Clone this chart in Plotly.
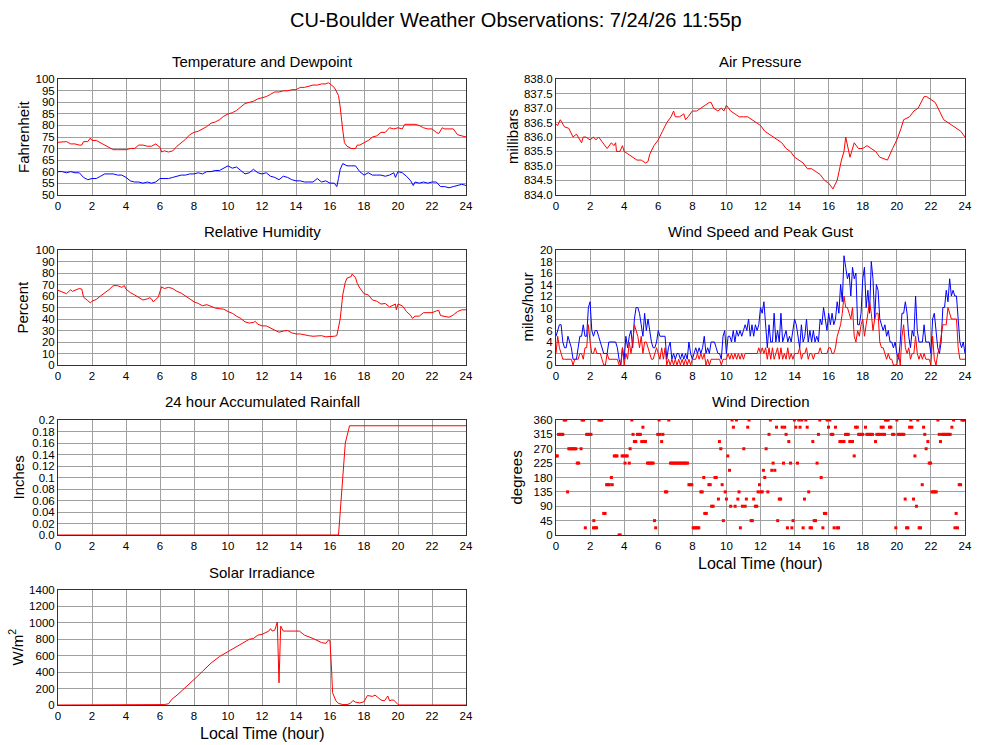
import plotly.graph_objects as go

# ---------------- data ----------------
temp_t = [0, 0.25, 0.5, 0.75, 1.0, 1.25, 1.4, 1.5, 1.75, 1.9, 2.0, 2.25, 2.5, 2.75, 3.0, 3.25, 3.5, 3.75,
          4.0, 4.25, 4.5, 4.75, 5.0, 5.25, 5.5, 5.75, 6.0, 6.1, 6.25, 6.5, 6.75, 7.0, 7.25, 7.5, 7.75,
          8.0, 8.25, 8.5, 8.75, 9.0, 9.25, 9.5, 9.75, 10.0, 10.25, 10.5, 10.75, 11.0, 11.25, 11.5, 11.75,
          12.0, 12.25, 12.5, 12.75, 13.0, 13.25, 13.5, 13.75, 14.0, 14.25, 14.5, 14.75, 15.0, 15.25, 15.5,
          15.75, 15.9, 16.0, 16.25, 16.5, 16.6, 16.75, 16.85, 17.0, 17.25, 17.5, 17.6, 17.75, 18.0, 18.25,
          18.5, 18.75, 19.0, 19.25, 19.5, 19.75, 20.0, 20.25, 20.4, 20.75, 21.0, 21.25, 21.5, 21.75, 22.0,
          22.25, 22.4, 22.6, 22.75, 23.0, 23.25, 23.5, 23.75, 24.0]
temp_f = [72.7, 73, 73, 72, 72, 71.5, 71.5, 73, 73, 74.5, 73.5, 73.5, 72.5, 71.5, 70.5, 69.5, 69.5, 69.5,
          69.5, 70, 70, 71.5, 71.5, 71, 71, 72, 70.5, 68.5, 69, 68.5, 69, 71, 72.5, 74, 76,
          77, 77.5, 78.5, 79.5, 81, 81.5, 82.5, 84, 85, 85.5, 86.5, 88, 89.5, 90, 90.5, 91.5,
          92, 92.5, 93.5, 94.5, 94.5, 95, 95, 95.5, 95.5, 96.5, 96.5, 97, 97.5, 97.5, 98,
          98, 98.5, 98, 96.5, 93, 88, 78, 72.5, 71, 70, 70, 71.5, 71.5, 72.5, 73.5,
          75, 75.5, 77, 77, 79, 78.5, 79, 78.5, 80.5, 80.5, 80.5, 80, 79, 78.5, 78.5,
          77, 76.5, 79, 78.5, 78.5, 78.5, 76, 75.5, 75]

dew_t = [0, 0.25, 0.5, 0.75, 1.0, 1.25, 1.5, 1.75, 2.0, 2.25, 2.5, 2.75, 3.0, 3.25, 3.5, 3.75, 4.0, 4.25,
         4.5, 4.75, 5.0, 5.25, 5.5, 5.75, 6.0, 6.25, 6.5, 6.75, 7.0, 7.25, 7.5, 7.75, 8.0, 8.25, 8.5, 8.75,
         9.0, 9.25, 9.5, 9.75, 10.0, 10.25, 10.5, 10.75, 11.0, 11.25, 11.5, 11.75, 12.0, 12.25, 12.5, 12.75,
         13.0, 13.25, 13.5, 13.75, 14.0, 14.25, 14.5, 14.75, 15.0, 15.25, 15.5, 15.75, 16.0, 16.25, 16.4,
         16.5, 16.6, 16.75, 17.0, 17.25, 17.5, 17.75, 18.0, 18.25, 18.5, 18.75, 19.0, 19.25, 19.5, 19.75,
         19.85, 20.0, 20.25, 20.5, 20.75, 20.9, 21.0, 21.25, 21.5, 21.75, 22.0, 22.25, 22.5, 22.75, 23.0,
         23.25, 23.5, 23.75, 24.0]
dew_f = [60, 60, 59.5, 60, 59.5, 59.5, 57.5, 56.5, 57, 57, 58, 59, 59, 59, 58.5, 58.5, 57.5, 56,
         55.5, 55.5, 55, 55.5, 55, 55.5, 57, 57, 57, 57.5, 58, 58.5, 58.5, 59, 59, 59.5, 59, 60,
         60, 60.5, 60.5, 61.5, 62.5, 61.5, 62, 60.5, 59, 59.5, 61, 59.5, 59, 59.5, 58, 57.5,
         56.5, 58, 57.5, 56.5, 56, 56, 55.5, 55.5, 55.5, 57, 55.5, 56, 55, 55, 53.5,
         57, 61, 63.5, 62.5, 62.5, 62.5, 60, 58.5, 59.5, 58.5, 58.5, 58.5, 58, 58.5, 59.5,
         57.5, 60, 59.5, 58, 56, 54, 55.5, 55, 55.5, 55, 55.5, 55.5, 53.5, 53.5, 53,
         53.5, 54, 54.5, 54]

pres_t = [0, 0.1, 0.25, 0.5, 0.75, 1.0, 1.2, 1.4, 1.5, 1.6, 1.75, 2.0, 2.2, 2.35, 2.5, 2.75, 3.0, 3.25,
          3.4, 3.5, 3.55, 3.75, 3.9, 4.0, 4.25, 4.5, 4.75, 5.0, 5.25, 5.4, 5.5, 5.75, 6.0, 6.25, 6.5,
          6.75, 6.9, 7.0, 7.25, 7.5, 7.6, 7.75, 8.0, 8.25, 8.5, 8.75, 9.0, 9.1, 9.25, 9.5, 9.7, 9.85,
          10.0, 10.25, 10.5, 10.75, 11.0, 11.25, 11.5, 11.75, 12.0, 12.25, 12.5, 12.75, 13.0, 13.25,
          13.5, 13.75, 14.0, 14.25, 14.5, 14.75, 15.0, 15.25, 15.5, 15.75, 16.0, 16.25, 16.5, 16.75,
          16.9, 17.0, 17.15, 17.25, 17.5, 17.75, 18.0, 18.25, 18.5, 18.75, 19.0, 19.25, 19.45, 19.75,
          20.0, 20.25, 20.4, 20.75, 21.0, 21.25, 21.5, 21.6, 21.75, 22.0, 22.25, 22.5, 22.75, 23.0,
          23.25, 23.5, 23.75, 24.0]
pres_mb = [836.45, 836.4, 836.6, 836.35, 836.3, 836.0, 836.1, 835.9, 835.8, 836.0, 836.0, 835.9, 836.0,
           835.9, 836.0, 835.8, 835.6, 835.8, 835.7, 835.8, 835.5, 835.5, 835.7, 835.5, 835.4, 835.3,
           835.2, 835.2, 835.1, 835.15, 835.4, 835.7, 835.9, 836.2, 836.5, 836.7, 836.9, 836.7, 836.7,
           836.8, 836.6, 836.7, 836.9, 836.9, 837.0, 837.1, 837.2, 837.2, 837.0, 836.9, 837.0, 836.9,
           837.1, 836.9, 836.8, 836.7, 836.7, 836.7, 836.6, 836.5, 836.4, 836.2, 836.1, 836.0, 835.9,
           835.8, 835.6, 835.5, 835.3, 835.2, 835.1, 834.9, 834.9, 834.8, 834.7, 834.5, 834.4, 834.2,
           834.5, 835.2, 835.5, 836.0, 835.6, 835.3, 835.8, 835.6, 835.6, 835.7, 835.6, 835.5, 835.3,
           835.25, 835.2, 835.6, 835.9, 836.3, 836.6, 836.7, 836.9, 837.0, 837.3, 837.4, 837.4, 837.3,
           837.2, 836.9, 836.6, 836.5, 836.4, 836.3, 836.2, 836.0]

rh_t = [0, 0.25, 0.5, 0.75, 0.85, 1.0, 1.25, 1.4, 1.5, 1.75, 1.9, 2.0, 2.25, 2.5, 2.75, 3.0, 3.25, 3.5,
        3.75, 3.9, 4.0, 4.25, 4.5, 4.75, 5.0, 5.25, 5.4, 5.5, 5.6, 5.75, 5.9, 6.0, 6.1, 6.25, 6.5, 6.75,
        7.0, 7.25, 7.5, 7.75, 8.0, 8.25, 8.5, 8.75, 9.0, 9.25, 9.5, 9.75, 10.0, 10.25, 10.5, 10.75, 11.0,
        11.25, 11.5, 11.6, 11.75, 12.0, 12.25, 12.5, 12.75, 13.0, 13.25, 13.5, 13.75, 14.0, 14.25, 14.5,
        14.75, 15.0, 15.25, 15.5, 15.75, 16.0, 16.25, 16.4, 16.5, 16.6, 16.75, 16.9, 17.0, 17.25, 17.3,
        17.5, 17.6, 17.75, 18.0, 18.25, 18.5, 18.75, 19.0, 19.25, 19.5, 19.75, 19.85, 19.9, 20.0, 20.25,
        20.5, 20.75, 20.85, 21.0, 21.25, 21.5, 21.75, 22.0, 22.25, 22.4, 22.5, 22.75, 23.0, 23.25, 23.5,
        23.75, 24.0]
rh_pct = [65, 63.5, 62, 65.5, 64, 65, 66.5, 66, 59, 56, 54, 55.5, 57, 60, 62.5, 65.5, 69, 69,
          67.5, 69, 66, 63, 61, 58.5, 56.5, 57.5, 58.5, 57.5, 55, 57, 59, 64, 68, 66.5, 67.5, 66.5,
          64, 62.5, 60, 57.5, 55, 53.5, 51.5, 52.5, 51, 49.5, 49, 48.5, 46.5, 45, 42.5, 40.5, 37.5,
          36.5, 37, 38, 35.5, 34, 34, 32, 30, 28.5, 29.5, 30, 28, 27, 27, 26,
          25.5, 25, 25.5, 25.5, 24.5, 24.5, 25, 25.5, 32, 40, 61, 72, 75.5, 77, 79,
          76, 71, 67, 62, 61, 56.5, 55.5, 53, 53.5, 50.5, 52, 53, 48, 53, 51.5,
          46.5, 43, 40.5, 42.5, 42.5, 45.5, 45.5, 45.5, 47, 47.5, 43, 42, 41.5, 43.5, 46.5,
          48, 48]

wind_t = [i / 10 for i in range(241)]
gust_mph = [5, 6, 7, 7, 4, 3, 3, 5, 4, 3, 1,
            1, 1, 3, 5, 5, 7, 5, 5, 10, 11,
            6, 5, 6, 6, 5, 4, 3, 2, 2, 2,
            4, 4, 4, 4, 4, 3, 1, 0, 3, 1,
            5, 3, 5, 6, 3, 8, 10, 10, 9, 7,
            5, 9, 6, 8, 6, 4, 3, 3, 4, 6,
            5, 5, 5, 5, 1, 3, 4, 1, 2, 1,
            2, 2, 1, 2, 1, 2, 1, 4, 2, 1,
            2, 3, 2, 3, 2, 3, 5, 2, 3, 2,
            4, 4, 4, 3, 2, 2, 1, 5, 6, 2,
            5, 5, 4, 6, 4, 6, 5, 6, 5, 6,
            7, 6, 8, 5, 7, 5, 7, 6, 7, 10,
            9, 11, 6, 3, 7, 4, 4, 9, 4, 6,
            4, 9, 4, 5, 6, 4, 5, 4, 6, 8,
            7, 5, 3, 7, 4, 5, 8, 4, 6, 4,
            6, 4, 5, 4, 8, 7, 10, 8, 6, 9,
            7, 9, 7, 8, 11, 9, 14, 11, 19, 17,
            15, 16, 12, 17, 15, 16, 7, 7, 9, 15,
            17, 10, 13, 9, 18, 15, 8, 14, 13, 8,
            7, 6, 7, 5, 6, 4, 4, 3, 4, 2,
            1, 4, 9, 9, 11, 9, 5, 3, 6, 5,
            12, 6, 4, 4, 4, 7, 4, 4, 4, 2,
            8, 9, 6, 3, 2, 4, 10, 10, 13, 11,
            15, 12, 13, 12, 12, 8, 4, 3, 4, 2,
            5, 6]
speed_mph = [2, 5, 3, 2, 1, 1, 1, 1, 1, 1, 0,
             1, 1, 1, 2, 2, 1, 3, 3, 7, 4,
             2, 2, 3, 2, 2, 2, 1, 0, 0, 2,
             1, 1, 1, 1, 1, 1, 0, 0, 3, 0,
             2, 1, 4, 2, 4, 7, 6, 5, 3, 5,
             2, 4, 4, 3, 2, 1, 1, 2, 3, 2,
             1, 3, 1, 3, 0, 1, 0, 1, 0, 1,
             0, 1, 0, 1, 0, 1, 0, 1, 0, 1,
             1, 1, 2, 1, 2, 1, 2, 0, 1, 0,
             1, 1, 1, 1, 1, 1, 0, 1, 1, 1,
             2, 1, 2, 1, 2, 1, 2, 1, 2, 1,
             2, 2, 2, 2, 2, 2, 2, 2, 3, 2,
             3, 2, 3, 1, 3, 1, 3, 1, 2, 3,
             1, 3, 1, 2, 1, 3, 1, 2, 1, 2,
             2, 2, 3, 1, 2, 2, 3, 1, 2, 2,
             1, 2, 2, 2, 3, 2, 2, 2, 2, 3,
             3, 2, 2, 3, 5, 6, 7, 9, 12, 10,
             10, 9, 8, 10, 5, 4, 6, 5, 7, 8,
             5, 7, 9, 11, 9, 6, 8, 9, 9, 4,
             3, 3, 2, 1, 2, 1, 1, 0, 0, 0,
             2, 0, 5, 7, 3, 2, 3, 1, 2, 2,
             5, 2, 1, 2, 1, 2, 1, 1, 1, 0,
             5, 1, 0, 2, 3, 5, 7, 7, 7, 10,
             9, 8, 8, 8, 8, 3, 1, 1, 1, 1,
             2, 3]

dir_t = [0.00, 0.08, 0.15, 0.23, 0.32, 0.40, 0.48, 0.57, 0.68, 0.75, 0.83, 0.92, 1.00, 1.08, 1.17,
         1.25, 1.33, 1.47, 1.53, 1.62, 1.72, 1.80, 1.88, 1.97, 2.05, 2.22, 2.20, 2.30, 2.38, 2.52,
         2.60, 2.68, 2.80, 2.88, 2.97, 3.05, 3.13, 3.25, 3.30, 3.42, 3.50, 3.58, 3.70, 3.77, 3.88,
         3.97, 4.05, 4.10, 4.18, 4.30, 4.35, 4.45, 4.52, 4.60, 4.68, 4.78, 4.87, 4.95, 5.03, 5.10,
         5.17, 5.25, 5.37, 5.45, 5.53, 5.62, 5.70, 5.78, 5.85, 5.97, 6.05, 6.10, 6.20, 6.27, 6.42,
         6.50, 6.62, 6.72, 6.80, 6.88, 6.97, 7.05, 7.13, 7.22, 7.30, 7.38, 7.47, 7.55, 7.63, 7.72,
         7.80, 7.88, 7.97, 8.05, 8.13, 8.22, 8.30, 8.38, 8.50, 8.58, 8.67, 8.73, 8.82, 8.97, 9.05,
         9.13, 9.22, 9.33, 9.40, 9.53, 9.59, 9.67, 9.75, 9.82, 9.93, 10.00, 10.08, 10.18, 10.25,
         10.33, 10.41, 10.51, 10.59, 10.67, 10.74, 10.82, 10.94, 11.02, 11.10, 11.17, 11.25, 11.33,
         11.45, 11.52, 11.60, 11.70, 11.78, 11.86, 11.94, 12.02, 12.10, 12.17, 12.25, 12.33, 12.43,
         12.50, 12.58, 12.66, 12.74, 12.84, 12.94, 13.01, 13.10, 13.18, 13.27, 13.35, 13.42, 13.50,
         13.58, 13.66, 13.76, 13.84, 13.91, 13.99, 14.07, 14.17, 14.25, 14.32, 14.42, 14.50, 14.58,
         14.66, 14.74, 14.83, 14.91, 14.99, 15.07, 15.15, 15.23, 15.32, 15.40, 15.48, 15.56, 15.66,
         15.75, 15.83, 15.91, 15.99, 16.07, 16.15, 16.24, 16.32, 16.40, 16.50, 16.58, 16.66, 16.74,
         16.82, 16.90, 16.99, 17.07, 17.15, 17.24, 17.32, 17.40, 17.50, 17.58, 17.68, 17.76, 17.84,
         17.92, 18.00, 18.16, 18.24, 18.32, 18.41, 18.49, 18.57, 18.75, 18.83, 18.93, 19.02, 19.08,
         19.16, 19.20, 19.28, 19.33, 19.41, 19.49, 19.57, 19.65, 19.75, 19.83, 19.94, 20.00, 20.08,
         20.16, 20.24, 20.33, 20.41, 20.49, 20.57, 20.65, 20.75, 20.82, 20.88, 20.98, 21.06, 21.15,
         21.23, 21.31, 21.39, 21.49, 21.57, 21.64, 21.72, 21.82, 21.90, 21.98, 22.06, 22.14, 22.23,
         22.31, 22.41, 22.49, 22.56, 22.64, 22.72, 22.80, 22.88, 22.97, 23.05, 23.13, 23.23, 23.33,
         23.41, 23.48, 23.56, 23.66, 23.74, 23.82, 23.90, 23.97]
dir_deg = [247.5, 247.5, 315, 315, 315, 315, 360, 360, 135, 270, 270, 270, 270, 270, 270,
           225, 225, 270, 360, 360, 22.5, 315, 315, 315, 315, 45, 22.5, 22.5, 22.5, 360,
           360, 360, 67.5, 67.5, 157.5, 157.5, 157.5, 180, 157.5, 247.5, 247.5, 247.5, 0, 0, 247.5,
           247.5, 225, 247.5, 247.5, 225, 270, 360, 315, 292.5, 292.5, 315, 315, 315, 292.5, 337.5,
           292.5, 292.5, 225, 225, 225, 225, 225, 45, 22.5, 315, 360, 315, 292.5, 315, 135,
           135, 360, 225, 225, 225, 225, 225, 225, 225, 225, 225, 225, 225, 225, 225,
           157.5, 157.5, 157.5, 22.5, 22.5, 22.5, 22.5, 22.5, 135, 135, 180, 67.5, 67.5, 157.5, 157.5,
           90, 90, 180, 180, 112.5, 292.5, 270, 157.5, 45, 135, 112.5, 247.5, 202.5, 90,
           360, 337.5, 90, 360, 112.5, 135, 22.5, 90, 270, 90, 112.5, 337.5, 360,
           45, 45, 112.5, 90, 90, 135, 157.5, 135, 135, 202.5, 180, 270, 135,
           315, 360, 202.5, 225, 202.5, 337.5, 45, 112.5, 112.5, 337.5, 225, 337.5, 315,
           22.5, 292.5, 225, 22.5, 45, 360, 337.5, 225, 360, 337.5, 360, 22.5, 112.5,
           360, 337.5, 135, 22.5, 22.5, 292.5, 45, 45, 225, 315, 360, 180, 22.5,
           67.5, 67.5, 360, 337.5, 360, 315, 315, 22.5, 337.5, 22.5, 22.5, 292.5, 292.5,
           292.5, 292.5, 315, 315, 315, 292.5, 292.5, 292.5, 247.5, 337.5, 337.5, 315, 315,
           315, 315, 337.5, 315, 315, 315, 315, 315, 292.5, 315, 315, 315, 337.5,
           315, 337.5, 315, 360, 360, 360, 337.5, 337.5, 315, 315, 22.5, 360, 315,
           315, 315, 315, 315, 112.5, 22.5, 22.5, 337.5, 360, 337.5, 112.5, 247.5, 90,
           360, 22.5, 22.5, 157.5, 337.5, 315, 270, 292.5, 225, 225, 135, 135, 135,
           135, 360, 315, 292.5, 315, 315, 315, 315, 315, 315, 315, 337.5, 360,
           22.5, 67.5, 22.5, 157.5, 157.5, 360, 360, 360]

rain_t = [0, 16.5, 16.75, 16.9, 17.15, 24]
rain_in = [0, 0, 0.1, 0.16, 0.19, 0.19]

solar_t = [0, 6.0, 6.25, 6.5, 6.7, 7.0, 7.5, 8.0, 8.5, 9.0, 9.5, 10.0, 10.5, 11.0, 11.25, 11.5, 11.75,
           12.0, 12.25, 12.4, 12.5, 12.6, 12.75, 12.9, 13.0, 13.1, 13.25, 13.5, 14.0, 14.2, 14.5, 15.0,
           15.5, 15.75, 15.9, 16.0, 16.1, 16.15, 16.35, 16.5, 16.75, 17.0, 17.2, 17.35, 17.5, 17.75,
           18.0, 18.2, 18.5, 18.65, 18.8, 19.0, 19.2, 19.4, 19.5, 19.6, 19.75, 20.0, 20.1, 24]
solar_w = [0, 0, 5, 15, 70, 120, 210, 310, 410, 510, 590, 650, 720, 780, 800, 810, 850,
           860, 880, 900, 930, 900, 910, 1010, 270, 960, 900, 900, 900, 900, 850, 810,
           760, 750, 790, 780, 400, 150, 50, 20, 5, 5, 20, 55, 35, 25,
           40, 115, 105, 120, 95, 60, 50, 110, 50, 60, 60, 5, 0, 0]

x_ticks = list(range(0, 25, 2))
rain_tickvals = [0, 0.02, 0.04, 0.06, 0.08, 0.1, 0.12, 0.14, 0.16, 0.18, 0.2]
rain_ticktext = ["0.0", "0.02", "0.04", "0.06", "0.08", "0.1", "0.12", "0.14", "0.16", "0.18", "0.2"]

# ---------------- layout helpers ----------------
W, H = 1000, 745
FONT = "Liberation Sans, Arial, Helvetica, sans-serif"
RED, BLUE = "#ff0000", "#0000ff"
GRID = "#a0a0a0"
TICK = 11.5

def py(p):
    return 1 - p / H

left_x = [0.058, 0.466]
right_x = [0.556, 0.965]
rows = [(79.3, 194.7), (250, 365), (420, 535), (590, 705)]
row_dom = [[py(b), py(t)] for t, b in rows]

panels = [
    # (n, xdom, row, title, ytitle, yrange, dtick, ytitle_x)
    (1, left_x, 0, "Temperature and Dewpoint", "Fahrenheit", [50, 100], 5, 23),
    (2, right_x, 0, "Air Pressure", "millibars", [834, 838], 0.5, 512),
    (3, left_x, 1, "Relative Humidity", "Percent", [0, 100], 10, 22),
    (4, right_x, 1, "Wind Speed and Peak Gust", "miles/hour", [0, 20], 2, 527),
    (5, left_x, 2, "24 hour Accumulated Rainfall", "Inches", [0, 0.2], 0.02, 18),
    (6, right_x, 2, "Wind Direction", "degrees", [0, 360], 45, 516),
    (7, left_x, 3, "Solar Irradiance", "W/m<sup>2</sup>", [0, 1400], 200, 16),
]

fig = go.Figure()

def line(x, y, n, color):
    fig.add_trace(go.Scatter(x=x, y=y, mode="lines", line=dict(color=color, width=1),
                             xaxis=f"x{n}", yaxis=f"y{n}", showlegend=False, hoverinfo="skip"))

line(temp_t, temp_f, 1, RED)
line(dew_t, dew_f, 1, BLUE)
line(pres_t, pres_mb, 2, RED)
line(rh_t, rh_pct, 3, RED)
line(wind_t, gust_mph, 4, BLUE)
line(wind_t, speed_mph, 4, RED)
line(rain_t, rain_in, 5, RED)
fig.add_trace(go.Scatter(x=dir_t, y=dir_deg, mode="markers",
                         marker=dict(symbol="square", size=3, color=RED, line=dict(width=0)),
                         xaxis="x6", yaxis="y6", showlegend=False, hoverinfo="skip"))
line(solar_t, solar_w, 7, RED)

layout = dict(
    width=W, height=H, autosize=False,
    margin=dict(l=0, r=0, t=0, b=0, pad=0, autoexpand=False),
    paper_bgcolor="white", plot_bgcolor="white",
    font=dict(family=FONT, color="black", size=12),
    showlegend=False,
)
annotations = [dict(text="CU-Boulder Weather Observations: 7/24/26 11:55p", x=0.516, y=py(20),
                    xref="paper", yref="paper", showarrow=False, font=dict(size=20, family=FONT),
                    xanchor="center", yanchor="middle")]

for n, xd, r, title, ytitle, yr, dt, ytx in panels:
    t, b = rows[r]
    sfx = "" if n == 1 else str(n)
    layout[f"xaxis{sfx}"] = dict(domain=xd, anchor=f"y{n}", range=[0, 24], tickmode="array",
                                 tickvals=x_ticks, showgrid=True, gridcolor=GRID, gridwidth=1,
                                 zeroline=False, showline=True, linecolor="#333333", linewidth=1,
                                 mirror=True, ticks="", tickfont=dict(size=TICK), fixedrange=True,
                                 automargin=False)
    yax = dict(domain=row_dom[r], anchor=f"x{n}", range=yr, dtick=dt, tick0=yr[0],
               showgrid=True, gridcolor=GRID, gridwidth=1, zeroline=False, showline=True,
               linecolor="#333333", linewidth=1, mirror=True, ticks="", tickfont=dict(size=TICK),
               fixedrange=True, automargin=False)
    if n == 2:
        yax["tickformat"] = ".1f"
    if n == 5:
        yax.update(tickmode="array", tickvals=rain_tickvals, ticktext=rain_ticktext)
    layout[f"yaxis{sfx}"] = yax
    cx = (xd[0] + xd[1]) / 2
    annotations.append(dict(text=title, x=cx, y=py(t - 18), xref="paper", yref="paper",
                            showarrow=False, font=dict(size=15, family=FONT),
                            xanchor="center", yanchor="middle"))
    annotations.append(dict(text=ytitle, x=ytx / W, y=py((t + b) / 2), xref="paper", yref="paper",
                            showarrow=False, textangle=-90, font=dict(size=15, family=FONT),
                            xanchor="center", yanchor="middle"))
    if n in (6, 7):
        annotations.append(dict(text="Local Time (hour)", x=cx, y=py(b + 28), xref="paper",
                                yref="paper", showarrow=False, font=dict(size=16, family=FONT),
                                xanchor="center", yanchor="middle"))

layout["annotations"] = annotations
fig.update_layout(**layout)
fig.write_html("out.html", config={"displayModeBar": False, "staticPlot": True},
               post_script="document.body.style.margin='0px';document.body.style.overflow='hidden';")
